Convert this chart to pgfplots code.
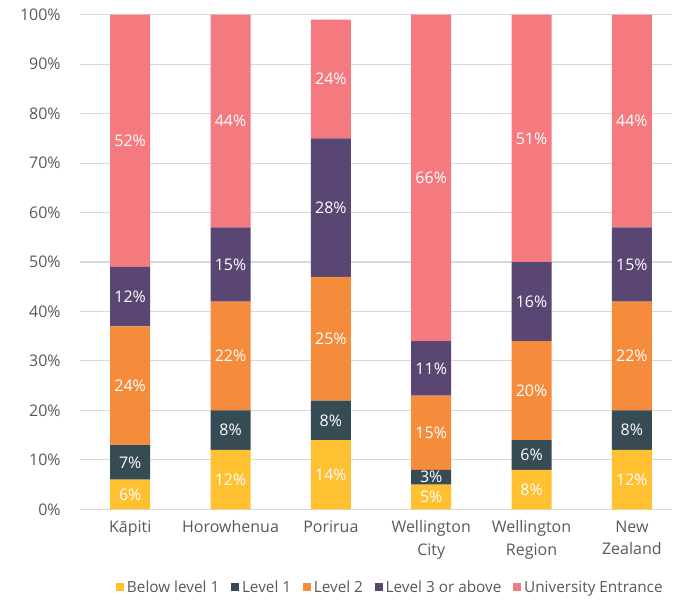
\documentclass[border=0pt]{standalone}
\usepackage{fontspec}
\setmainfont{Open Sans}
\usepackage{pgfplots}
\pgfplotsset{compat=1.18}

\definecolor{cBelow}{RGB}{255,193,50}
\definecolor{cL1}{RGB}{55,75,85}
\definecolor{cL2}{RGB}{245,140,60}
\definecolor{cL3}{RGB}{90,70,115}
\definecolor{cUE}{RGB}{244,122,128}
\definecolor{txt}{RGB}{89,89,89}
\definecolor{gridc}{RGB}{217,217,217}

\begin{document}
\begin{tikzpicture}
\begin{axis}[
    name=main,
    ybar stacked,
    bar width=30pt,
    scale only axis,
    width=444pt, height=371pt,
    xmin=-0.5, xmax=5.4,
    ymin=0, ymax=100,
    ytick={0,10,...,100},
    yticklabel={\pgfmathprintnumber{\tick}\%},
    /pgf/number format/assume math mode=true,
    xtick={0,1,2,3,4,5},
    xticklabels={K\=apiti,Horowhenua,Porirua,Wellington\\City,Wellington\\Region,New\\Zealand},
    x tick label style={align=center, text=txt, font=\fontsize{12}{17}\selectfont, yshift=-5pt},
    y tick label style={text=txt, font=\fontsize{12}{14}\selectfont, xshift=-11pt},
    major tick length=0pt,
    axis line style={draw=none},
    ymajorgrids=true,
    grid style={gridc, line width=0.8pt},
    point meta=explicit symbolic,
    nodes near coords,
    every node near coord/.append style={font=\fontsize{12}{14}\selectfont, text=white},
    legend style={at={(0.525,-0.158)}, anchor=center, draw=none, legend columns=5,
        font=\fontsize{11.5}{13}\selectfont, text=txt,
        /tikz/every odd column/.append style={column sep=0pt},
        /tikz/every even column/.append style={column sep=7pt}},
    legend image code/.code={\fill[#1] (0pt,-3pt) rectangle (6pt,3pt);},
]
\addplot+[fill=cBelow, draw=none] coordinates {
 (0,6) [6\%] (1,12) [12\%] (2,14) [14\%] (3,5) [5\%] (4,8) [8\%] (5,12) [12\%]};
\addplot+[fill=cL1, draw=none] coordinates {
 (0,7) [7\%] (1,8) [8\%] (2,8) [8\%] (3,3) [3\%] (4,6) [6\%] (5,8) [8\%]};
\addplot+[fill=cL2, draw=none] coordinates {
 (0,24) [24\%] (1,22) [22\%] (2,25) [25\%] (3,15) [15\%] (4,20) [20\%] (5,22) [22\%]};
\addplot+[fill=cL3, draw=none] coordinates {
 (0,12) [12\%] (1,15) [15\%] (2,28) [28\%] (3,11) [11\%] (4,16) [16\%] (5,15) [15\%]};
\addplot+[fill=cUE, draw=none] coordinates {
 (0,51) [52\%] (1,43) [44\%] (2,24) [24\%] (3,66) [66\%] (4,50) [51\%] (5,43) [44\%]};
\legend{Below level 1,Level 1,Level 2,Level 3 or above,University Entrance}
\end{axis}
\path (main.south west) ++(-60pt,-67pt) rectangle ++(505.5pt,449pt);
\end{tikzpicture}
\end{document}
